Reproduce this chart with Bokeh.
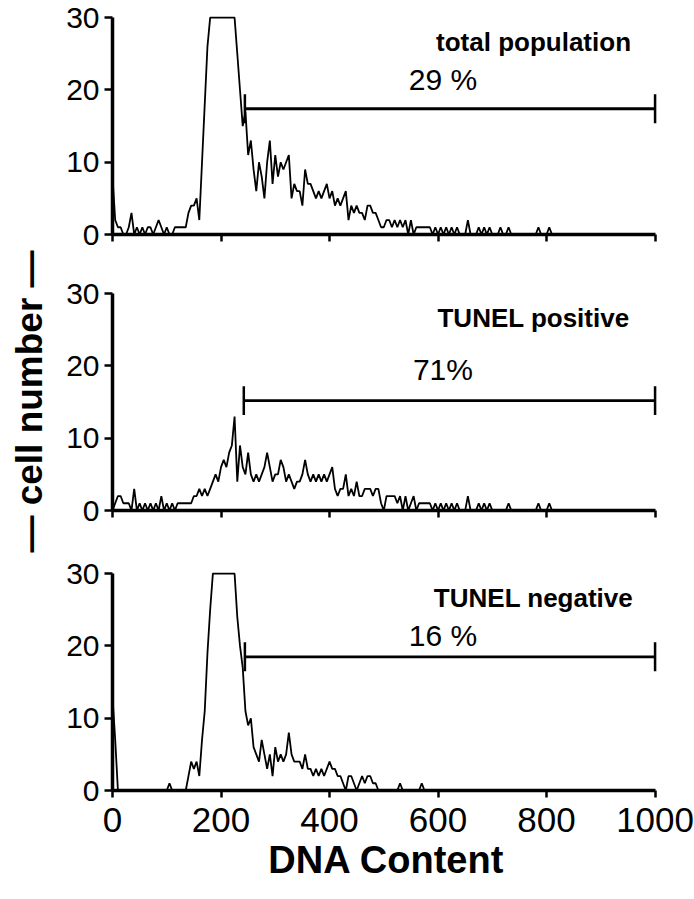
import numpy as np
from bokeh.plotting import figure
from bokeh.layouts import row, column
from bokeh.models import Range1d, FixedTicker
from bokeh.core.properties import value
from bokeh.embed import file_html
from bokeh.resources import INLINE

# ---------------- data (counts per DNA channel, channel width 5) ----------------
dna_step = 5
total_counts = [
    8, 2, 1, 1, 0, 0, 1, 3, 0, 1, 0, 1, 0, 1, 1, 0, 1, 2, 1, 0,      # 0-95
    1, 0, 0, 1, 1, 1, 1, 1, 3, 4, 4, 5, 2, 10, 18, 26, 30, 30, 30, 30,  # 100-195
    30, 30, 30, 30, 30, 30, 25, 20, 15, 17, 11, 13, 9, 6, 10, 8, 5, 10, 13, 7,  # 200-295
    11, 8, 10, 9, 10, 11, 5, 7, 6, 6, 4, 9, 7, 7, 6, 5, 6, 5, 6, 7,  # 300-395
    5, 6, 4, 5, 4, 5, 6, 2, 4, 3, 4, 3, 3, 2, 4, 4, 3, 3, 2, 1,      # 400-495
    1, 2, 2, 1, 2, 1, 2, 1, 2, 0, 2, 0, 1, 1, 1, 1, 1, 1, 0, 1,      # 500-595
    0, 1, 0, 1, 0, 1, 0, 1, 0, 0, 0, 2, 0, 0, 0, 1, 0, 1, 0, 1,      # 600-695
    0, 0, 0, 1, 0, 0, 1, 0, 0, 0, 0, 0, 0, 0, 0, 0, 0, 1, 0, 0,      # 700-795
    0, 1, 0, 0, 0,                                                   # 800-820
]
positive_counts = [
    0, 1, 2, 2, 1, 1, 1, 0, 3, 0, 1, 0, 1, 0, 1, 0, 1, 0, 2, 0,      # 0-95
    1, 0, 1, 0, 1, 1, 1, 1, 1, 1, 2, 2, 3, 2, 3, 2, 3, 4, 5, 4,      # 100-195
    6, 7, 6, 8, 9, 13, 4, 9, 6, 5, 8, 5, 4, 5, 4, 5, 6, 8, 6, 4,     # 200-295
    5, 5, 7, 6, 4, 5, 4, 3, 4, 4, 5, 7, 5, 4, 5, 4, 5, 4, 5, 4,      # 300-395
    5, 6, 3, 2, 3, 3, 5, 2, 3, 2, 4, 2, 2, 3, 3, 3, 2, 3, 3, 1,      # 400-495
    0, 2, 2, 2, 2, 1, 2, 0, 2, 0, 1, 2, 0, 1, 1, 1, 1, 1, 0, 1,      # 500-595
    0, 1, 0, 1, 0, 1, 0, 1, 0, 0, 0, 2, 0, 0, 0, 1, 0, 1, 0, 1,      # 600-695
    0, 0, 0, 0, 0, 0, 1, 0, 0, 0, 0, 0, 0, 0, 0, 0, 0, 1, 0, 0,      # 700-795
    0, 1, 0, 0, 0,                                                   # 800-820
]
negative_counts = [
    13, 7, 0, 0, 0, 0, 0, 0, 0, 0, 0, 0, 0, 0, 0, 0, 0, 0, 0, 0,     # 0-95
    0, 1, 0, 0, 0, 0, 0, 0, 2, 4, 3, 4, 2, 7, 11, 19, 25, 30, 30, 30,  # 100-195
    30, 30, 30, 30, 30, 30, 24, 20, 17, 11, 9, 10, 6, 5, 4, 7, 5, 3, 5, 2,  # 200-295
    6, 4, 5, 4, 5, 8, 5, 4, 4, 4, 3, 5, 3, 3, 2, 3, 2, 3, 2, 3,      # 300-395
    4, 3, 3, 2, 2, 1, 0, 2, 2, 1, 0, 1, 2, 1, 2, 2, 1, 1, 0, 0,      # 400-495
    0, 0, 0, 0, 0, 0, 1, 0, 0, 0, 0, 0, 0, 0, 1, 0, 0, 0, 0, 0,      # 500-595
    0, 0, 0, 0, 0,                                                   # 600-620
]

panel_titles = ["total population", "TUNEL positive", "TUNEL negative"]
percent_labels = ["29 %", "71%", "16 %"]
gate_start = [244, 242, 244]
gate_end = [1000, 1000, 1000]
gate_level = [17.4, 15.2, 18.5]
x_ticks = [0, 200, 400, 600, 800, 1000]
y_ticks = [0, 10, 20, 30]
x_axis_title = "DNA Content"
y_axis_title = "\u2014 cell number \u2014"

# ---------------- styling / layout constants ----------------
FONT = "Liberation Sans"
TOTAL_H = 897
LABEL_W = 58
MAIN_W = 694 - LABEL_W
LEFT_BORDER = 112 - LABEL_W
title_pos = (776, 26.7)
percent_x = 609
percent_y = [21.4, 19.5, 21.4]
cap_half = 2.0

panels = [total_counts, positive_counts, negative_counts]
borders = [(15, 20), (37, 20), (41, 107)]
FRAME_H = 219
heights = [b[0] + FRAME_H + b[1] for b in borders]

figs = []
for i, counts in enumerate(panels):
    top, bottom = borders[i]
    last = (i == 2)
    p = figure(width=MAIN_W, height=heights[i], output_backend="svg",
               toolbar_location=None, x_range=Range1d(0, 1010),
               y_range=Range1d(0, 30.3), min_border_left=LEFT_BORDER,
               min_border_right=34, min_border_top=top,
               min_border_bottom=bottom, background_fill_color="white",
               border_fill_color="white", outline_line_color=None)
    p.grid.visible = False

    xs = np.arange(len(counts)) * dna_step
    p.line(xs, counts, line_color="black", line_width=1.8)

    # gate bar with end caps
    p.segment(x0=[gate_start[i]], y0=[gate_level[i]], x1=[gate_end[i]],
              y1=[gate_level[i]], line_color="black", line_width=2.8)
    p.segment(x0=[gate_start[i], gate_end[i]],
              y0=[gate_level[i] - cap_half] * 2,
              x1=[gate_start[i], gate_end[i]],
              y1=[gate_level[i] + cap_half] * 2,
              line_color="black", line_width=2.5)

    p.text(x=[title_pos[0]], y=[title_pos[1]], text=[panel_titles[i]],
           text_font=value(FONT), text_font_style="bold",
           text_font_size="26px", text_align="center",
           text_baseline="alphabetic", text_color="black")
    p.text(x=[percent_x], y=[percent_y[i]], text=[percent_labels[i]],
           text_font=value(FONT), text_font_size="30px",
           text_align="center", text_baseline="middle", text_color="black")

    xa = p.xaxis[0]
    xa.ticker = FixedTicker(ticks=x_ticks)
    xa.bounds = (0, 1000)
    xa.axis_line_width = 3.5
    xa.major_tick_line_width = 2.5
    xa.major_tick_out = 7
    xa.major_tick_in = 0
    xa.minor_tick_line_color = None
    if last:
        xa.major_label_text_font = FONT
        xa.major_label_text_font_size = "35px"
        xa.major_label_standoff = 10
        xa.major_label_text_color = "black"
        xa.axis_label = x_axis_title
        xa.axis_label_text_font = FONT
        xa.axis_label_text_font_style = "bold"
        xa.axis_label_text_font_size = "38px"
        xa.axis_label_standoff = 4
        xa.axis_label_text_color = "black"
    else:
        xa.major_label_text_font_size = "0px"
        xa.major_label_text_color = None
        xa.major_label_standoff = 0

    ya = p.yaxis[0]
    ya.ticker = FixedTicker(ticks=y_ticks)
    ya.bounds = (0, 30)
    ya.axis_line_width = 3.5
    ya.major_tick_line_width = 2.5
    ya.major_tick_out = 8
    ya.major_tick_in = 0
    ya.minor_tick_line_color = None
    ya.major_label_text_font = FONT
    ya.major_label_text_font_size = "30px"
    ya.major_label_standoff = 5
    ya.major_label_text_color = "black"
    figs.append(p)

# narrow figure for the shared y-axis title
lab = figure(width=LABEL_W, height=TOTAL_H, output_backend="svg",
             toolbar_location=None, x_range=Range1d(0, LABEL_W),
             y_range=Range1d(0, TOTAL_H), min_border=0,
             outline_line_color=None)
lab.axis.visible = False
lab.grid.visible = False
lab.text(x=[LABEL_W / 2], y=[TOTAL_H - 401], text=[y_axis_title],
         angle=np.pi / 2, text_font=value(FONT), text_font_style="bold",
         text_font_size="37px", text_align="center",
         text_baseline="middle", text_color="black")

layout = row(lab, column(*figs, spacing=0), spacing=0)
open("out.html", "w").write(file_html(layout, INLINE))
